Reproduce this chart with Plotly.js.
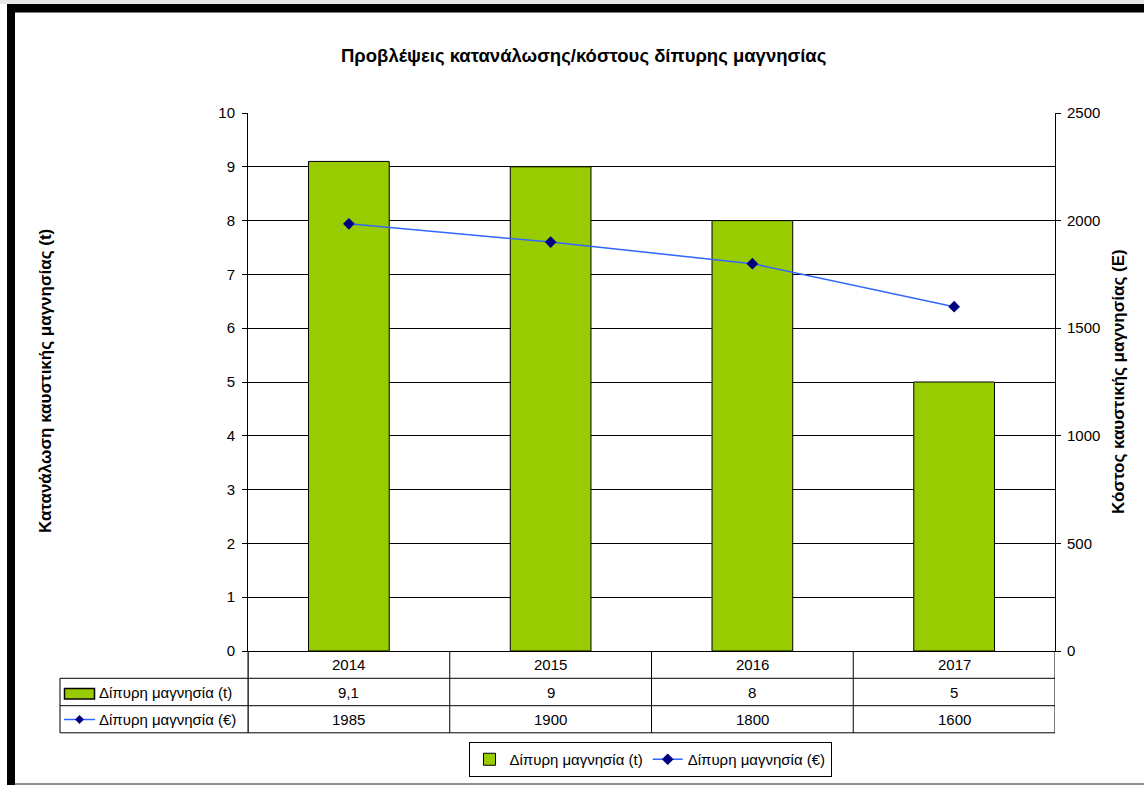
<!DOCTYPE html>
<html>
<head>
<meta charset="utf-8">
<script src="https://cdn.plot.ly/plotly-3.0.1.min.js"></script>
<style>
html,body{margin:0;padding:0;background:#fff;width:1144px;height:785px;overflow:hidden;}
#chart{width:1144px;height:785px;overflow:hidden;position:absolute;left:0;top:0;}
</style>
</head>
<body>
<div id="chart"></div>
<script>
const years = ['2014', '2015', '2016', '2017'];
const tonnes = [9.1, 9, 8, 5];
const cost = [1985, 1900, 1800, 1600];
const seriesNames = ['Δίπυρη μαγνησία (t)', 'Δίπυρη μαγνησία (€)'];
const chartTitle = 'Προβλέψεις κατανάλωσης/κόστους δίπυρης μαγνησίας';
const leftTitle = 'Κατανάλωση καυστικής μαγνησίας (t)';
const rightTitle = 'Κόστος καυστικής μαγνησίας (Ε)';

const W = 1144, H = 785;
// plot area in pixels
const L = 248, R = 1055, T = 113, B = 651;
// paper area extends to the bottom of the figure so the legend does not push margins
const PB = H;
const px = X => (X - L) / (R - L);
const py = Y => (PB - Y) / (PB - T);

const FONT = 'Liberation Sans, Arial, sans-serif';
const FS = 15;
const GREEN = '#99CC00';
const BLUE = '#3366FF';
const NAVY = '#000080';

const fmt = v => String(v).replace('.', ',');

const traces = [
  {
    type: 'bar', x: years, y: tonnes, name: seriesNames[0],
    marker: {color: GREEN, line: {color: '#000', width: 1}},
    width: 0.4, yaxis: 'y', hoverinfo: 'x+y'
  },
  {
    type: 'scatter', mode: 'lines+markers', x: years, y: cost, name: seriesNames[1],
    line: {color: BLUE, width: 1.5},
    marker: {symbol: 'diamond', size: 9, color: NAVY},
    yaxis: 'y2'
  }
];

// Table geometry (pixel rows)
const rowTop = B, row1 = 678.3, row2 = 705.7, row3 = 732.8, tableLeft = 60;
const shapes = [];
const line = (x0, y0, x1, y1, xref, color, width) => shapes.push({
  type: 'line', xref: xref || 'paper', yref: 'paper', x0, y0, x1, y1,
  line: {color: color || '#000', width: width || 1}
});
// horizontals
line(px(tableLeft), py(row1), 1, py(row1));
line(px(tableLeft), py(row2), 1, py(row2));
line(px(tableLeft), py(row3), 1, py(row3));
// verticals
line(px(tableLeft), py(row1), px(tableLeft), py(row3));
line(0, py(rowTop), 0, py(row3));
for (let i = 0; i <= years.length; i++) {
  shapes.push({type: 'line', xref: 'x', yref: 'paper', x0: i - 0.5, x1: i - 0.5,
    y0: py(rowTop), y1: py(row3), line: {color: '#000', width: 1}});
}
// legend keys inside table
shapes.push({type: 'rect', xref: 'paper', yref: 'paper',
  x0: px(64.5), x1: px(94.5), y0: py(688.5), y1: py(699),
  fillcolor: GREEN, line: {color: '#000', width: 1.5}});
line(px(64), py(719.5), px(95), py(719.5), 'paper', BLUE, 1.5);
{
  const cx = 79.5, cy = 719.5, d = 4.2;
  shapes.push({type: 'path', xref: 'paper', yref: 'paper',
    path: `M ${px(cx)} ${py(cy - d)} L ${px(cx + d)} ${py(cy)} L ${px(cx)} ${py(cy + d)} L ${px(cx - d)} ${py(cy)} Z`,
    fillcolor: NAVY, line: {color: NAVY, width: 0.5}});
}
// outer frame
shapes.push({type: 'rect', xref: 'paper', yref: 'paper', x0: px(0), x1: px(W), y0: py(0), y1: py(4),
  fillcolor: '#e6e6e6', line: {width: 0}, layer: 'below'});
shapes.push({type: 'rect', xref: 'paper', yref: 'paper', x0: px(7), x1: px(W), y0: py(4), y1: py(12.5),
  fillcolor: '#000', line: {width: 0}});
shapes.push({type: 'rect', xref: 'paper', yref: 'paper', x0: px(7), x1: px(15), y0: py(4), y1: py(H),
  fillcolor: '#000', line: {width: 0}});
line(px(15), py(784), px(W), py(784), 'paper', '#222', 1);

const annotations = [];
const ann = (o) => annotations.push(Object.assign({showarrow: false, font: {family: FONT, size: FS, color: '#000'}}, o));
years.forEach((yr, i) => {
  const xc = (i + 0.5) / years.length;
  ann({xref: 'paper', yref: 'paper', x: xc, y: py((rowTop + row1) / 2), text: yr, yanchor: 'middle', xanchor: 'center'});
  ann({xref: 'paper', yref: 'paper', x: xc, y: py((row1 + row2) / 2), text: fmt(tonnes[i]), yanchor: 'middle', xanchor: 'center'});
  ann({xref: 'paper', yref: 'paper', x: xc, y: py((row2 + row3) / 2), text: fmt(cost[i]), yanchor: 'middle', xanchor: 'center'});
});
ann({xref: 'paper', yref: 'paper', x: px(97), y: py((row1 + row2) / 2), text: seriesNames[0], xanchor: 'left', yanchor: 'middle'});
ann({xref: 'paper', yref: 'paper', x: px(97), y: py((row2 + row3) / 2), text: seriesNames[1], xanchor: 'left', yanchor: 'middle'});
// axis titles
ann({xref: 'paper', yref: 'paper', x: px(45), y: py(381), text: leftTitle, textangle: -90,
  font: {family: FONT, size: 17, color: '#000', weight: 'bold'}, xanchor: 'center', yanchor: 'middle'});
ann({xref: 'paper', yref: 'paper', x: px(1118), y: py(382), text: rightTitle, textangle: -90,
  font: {family: FONT, size: 17, color: '#000', weight: 'bold'}, xanchor: 'center', yanchor: 'middle'});
// chart title
ann({xref: 'paper', yref: 'paper', x: px(583), y: py(55), text: chartTitle,
  font: {family: FONT, size: 18.5, color: '#000', weight: 'bold'}, xanchor: 'center', yanchor: 'middle'});

const layout = {
  width: W, height: H,
  margin: {l: L, r: W - R, t: T, b: H - PB, pad: 0},
  paper_bgcolor: '#fff', plot_bgcolor: '#fff',
  font: {family: FONT, size: FS, color: '#000'},
  separators: ',.',
  showlegend: true,
  legend: {
    orientation: 'h', x: px(650), xanchor: 'center', y: py(742), yanchor: 'top',
    bordercolor: '#000', borderwidth: 1, bgcolor: '#fff',
    font: {family: FONT, size: FS, color: '#000'},
    itemwidth: 30, tracegroupgap: 0
  },
  xaxis: {
    type: 'category', range: [-0.5, years.length - 0.5], showticklabels: false,
    anchor: 'y', showline: true, linecolor: '#000', linewidth: 1, showgrid: false, zeroline: false, ticks: '', fixedrange: true
  },
  yaxis: {
    domain: [py(B), 1],
    range: [0, 10], dtick: 1, tick0: 0, ticks: 'outside', ticklen: 5, tickcolor: '#000',
    ticklabelstandoff: 4,
    showline: true, linecolor: '#000', linewidth: 1, showgrid: true, gridcolor: '#000', gridwidth: 1,
    zeroline: false, tickfont: {family: FONT, size: FS, color: '#000'}, fixedrange: true
  },
  yaxis2: {
    domain: [py(B), 1],
    overlaying: 'y', side: 'right', range: [0, 2500], dtick: 500, tick0: 0,
    ticks: 'outside', ticklen: 5, tickcolor: '#000', ticklabelstandoff: 3,
    showline: true, linecolor: '#000', linewidth: 1, showgrid: false, zeroline: false,
    tickfont: {family: FONT, size: FS, color: '#000'}, fixedrange: true
  },
  shapes, annotations
};

Plotly.newPlot('chart', traces, layout, {displayModeBar: false, staticPlot: true});
</script>
</body>
</html>
